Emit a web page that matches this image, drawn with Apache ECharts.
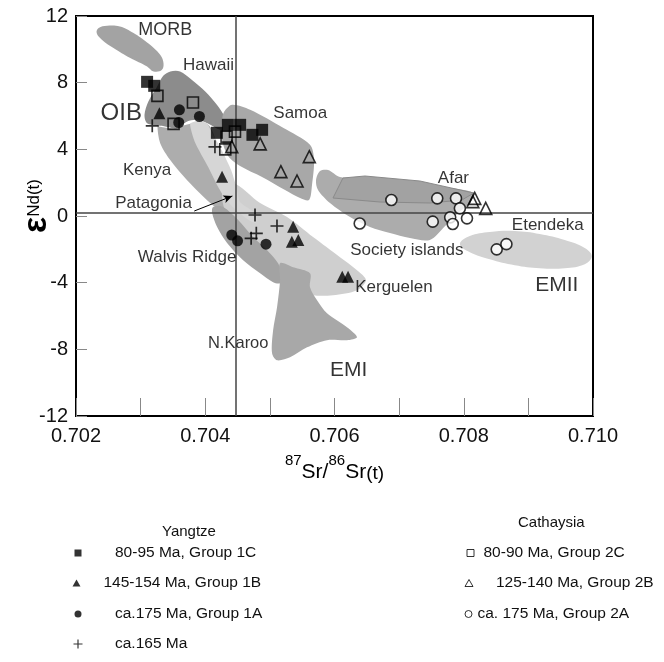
<!DOCTYPE html>
<html><head><meta charset="utf-8">
<script src="https://cdn.jsdelivr.net/npm/echarts@6/dist/echarts.min.js"></script>
<style>html,body{margin:0;padding:0;background:#fff}#c{width:664px;height:662px}</style>
</head><body><div id="c"></div>
<script>
// ---------- sample data (87Sr/86Sr(t), eNd(t)) ----------
var G1C_X = [0.70310, 0.70321, 0.70418, 0.70435, 0.70454, 0.70473, 0.70488];
var G1C_Y = [8.05, 7.81, 4.99, 5.47, 5.47, 4.87, 5.17];
var G1B_X = [0.70329, 0.70426, 0.70536, 0.70534, 0.70544, 0.70612, 0.70621];
var G1B_Y = [6.17, 2.36, -0.65, -1.55, -1.44, -3.65, -3.65];
var G1A_X = [0.70360, 0.70391, 0.70359, 0.70441, 0.70450, 0.70494];
var G1A_Y = [6.37, 5.97, 5.61, -1.14, -1.49, -1.69];
var G165_X = [0.70318, 0.70415, 0.70477, 0.70511, 0.70479, 0.70471];
var G165_Y = [5.41, 4.15, 0.06, -0.60, -1.04, -1.34];
var G2C_X = [0.70326, 0.70381, 0.70351, 0.70433, 0.70446, 0.70431];
var G2C_Y = [7.21, 6.81, 5.53, 4.76, 5.06, 4.00];
var G2B_X = [0.70441, 0.70485, 0.70561, 0.70517, 0.70542, 0.70817, 0.70814, 0.70834];
var G2B_Y = [4.16, 4.33, 3.56, 2.66, 2.10, 1.06, 0.86, 0.46];
var G2A_X = [0.70639, 0.70688, 0.70752, 0.70759, 0.70779, 0.70783, 0.70788, 0.70794, 0.70805, 0.70851, 0.70866];
var G2A_Y = [-0.45, 0.96, -0.34, 1.06, -0.08, -0.48, 1.06, 0.46, -0.14, -2.00, -1.69];

var SERIES_NAMES = ['80-95 Ma, Group 1C', '145-154 Ma, Group 1B', 'ca.175 Ma, Group 1A', 'ca.165 Ma',
                    '80-90 Ma, Group 2C', '125-140 Ma, Group 2B', 'ca. 175 Ma, Group 2A'];
var LEGEND_TITLES = ['Yangtze', 'Cathaysia'];

// ---------- axes ----------
var X_MIN = 0.702, X_MAX = 0.710, X_STEP = 0.001;
var Y_MIN = -12, Y_MAX = 12, Y_STEP = 4;
var REF_X = 0.70447;   // vertical reference line (bulk earth Sr)
var REF_Y = 0.2;       // horizontal reference line (CHUR)

// ---------- mantle reservoir fields (polygon vertices, data units) ----------
var MORB_FIELD = [[0.70235,11.28],[0.70248,11.42],[0.70268,11.37],[0.70289,10.98],[0.70310,10.41],[0.70328,9.78],[0.70335,9.27],[0.70333,8.77],[0.70320,8.67],[0.70310,8.97],[0.70284,9.48],[0.70258,10.08],[0.70240,10.58],[0.70232,10.98]];
var KENYA_FIELD = [[0.703261,5.41],[0.703303,4.37],[0.703458,3.36],[0.703716,2.16],[0.703972,1.16],[0.704179,0.46],[0.704334,0.16],[0.704354,0.66],[0.704334,1.56],[0.704277,2.58],[0.704199,3.96],[0.704122,4.99],[0.704025,5.53],[0.703767,5.53],[0.703509,5.27],[0.703303,5.35]];
var HAWAII_FIELD = [[0.70346,8.67],[0.70361,8.67],[0.70379,8.17],[0.70400,7.47],[0.70418,6.67],[0.70431,5.87],[0.70433,5.27],[0.70423,5.17],[0.70405,5.53],[0.70387,5.77],[0.70372,5.67],[0.70356,5.27],[0.70333,5.41],[0.70310,5.57],[0.70306,6.07],[0.70312,6.87],[0.70325,7.73],[0.70335,8.41]];
var KERGUELEN_FIELD = [[0.704431,1.98],[0.704849,0.78],[0.705266,-0.06],[0.705668,-1.26],[0.706085,-2.47],[0.706348,-3.25],[0.706487,-3.85],[0.706348,-4.45],[0.705977,-4.75],[0.705668,-4.75],[0.705359,-4.27],[0.705158,-3.67],[0.704957,-2.47],[0.704740,-1.87],[0.704493,-1.02],[0.704338,-0.06],[0.704261,1.38]];
var PATAGONIA_FIELD = [[0.703767,5.53],[0.703844,4.39],[0.704045,2.94],[0.704200,1.74],[0.704323,0.96],[0.704510,0.24],[0.704695,-0.30],[0.704787,-0.42],[0.704787,0.12],[0.704539,0.84],[0.704477,1.80],[0.704400,2.76],[0.704277,3.78],[0.704122,4.87],[0.704030,5.53],[0.703906,5.71]];
var WALVIS_FIELD = [[0.704122,0.54],[0.704277,0.54],[0.704509,-0.24],[0.704740,-1.26],[0.704957,-2.05],[0.705127,-2.83],[0.705204,-3.67],[0.705158,-4.03],[0.705050,-3.97],[0.704849,-3.43],[0.704586,-2.65],[0.704338,-1.62],[0.704184,-0.66],[0.704107,0.18]];
var NKAROO_FIELD = [[0.705158,-2.83],[0.705359,-3.07],[0.705621,-3.43],[0.705621,-4.27],[0.705730,-5.05],[0.705884,-5.83],[0.706193,-6.67],[0.706348,-7.27],[0.706193,-7.45],[0.705884,-7.45],[0.705575,-7.88],[0.705312,-8.48],[0.705111,-8.66],[0.705034,-8.24],[0.705050,-6.85],[0.705111,-5.47],[0.705158,-3.85]];
var SAMOA_FIELD = [[0.704292,6.25],[0.704416,6.67],[0.704694,6.37],[0.705204,5.29],[0.705621,4.27],[0.705683,3.36],[0.705652,1.86],[0.705606,0.96],[0.705467,1.08],[0.705235,1.56],[0.704879,2.34],[0.704539,3.00],[0.704354,3.60],[0.704261,4.57],[0.704261,5.77]];
var SOCIETY_FIELD = [[0.705714,2.16],[0.705776,2.70],[0.705900,2.76],[0.706085,2.34],[0.706394,2.28],[0.707012,2.10],[0.707677,1.74],[0.708156,1.38],[0.708094,0.78],[0.707909,0.16],[0.707708,-0.62],[0.707476,-1.44],[0.707167,-1.32],[0.706858,-1.02],[0.706549,-0.66],[0.706240,-0.06],[0.705930,0.78],[0.705745,1.56]];
var AFAR_FIELD = [[0.705977,1.08],[0.706131,2.28],[0.706471,2.40],[0.707322,2.10],[0.708156,1.38],[0.707971,0.96],[0.707476,0.78],[0.706703,0.84]];
var ETENDEKA_FIELD = [[0.707940,-1.68],[0.708094,-1.20],[0.708403,-0.96],[0.708790,-0.90],[0.709176,-1.08],[0.709563,-1.44],[0.709872,-1.92],[0.709980,-2.41],[0.709872,-2.89],[0.709563,-3.13],[0.709176,-3.13],[0.708790,-2.95],[0.708403,-2.59],[0.708094,-2.17]];

// ---------- field labels ----------
var LABEL_TEXT = ['MORB','Hawaii','OIB','Samoa','Kenya','Patagonia','Walvis Ridge','N.Karoo','EMI','Society islands','Kerguelen','Afar','Etendeka','EMII'];
var LABEL_X = [0.70338, 0.70405, 0.70270, 0.70547, 0.70310, 0.70320, 0.70372, 0.70451, 0.70622, 0.70712, 0.70692, 0.70784, 0.70930, 0.70944];
var LABEL_Y = [11.18, 9.03, 6.17, 6.17, 2.76, 0.76, -2.45, -7.65, -9.26, -2.04, -4.27, 2.26, -0.54, -4.15];
var ARROW_FROM = [0.70383, 0.30];
var ARROW_TO = [0.70442, 1.20];

// ---------- styling (kept out of data) ----------
var FONT = '"Liberation Sans", Arial, Helvetica, sans-serif';
var FIELDS = [
  {pts: MORB_FIELD, color: '#a3a3a3', smooth: 0.4},
  {pts: KENYA_FIELD, color: '#adadad', smooth: 0.3},
  {pts: HAWAII_FIELD, color: '#8c8c8c', smooth: 0.3},
  {pts: SAMOA_FIELD, color: '#a8a8a8', smooth: 0.3},
  {pts: KERGUELEN_FIELD, color: '#cfcfcf', smooth: 0.3},
  {pts: PATAGONIA_FIELD, color: '#d6d6d6', smooth: 0.2},
  {pts: WALVIS_FIELD, color: '#a3a3a3', smooth: 0.3},
  {pts: NKAROO_FIELD, color: '#a8a8a8', smooth: 0.3},
  {pts: SOCIETY_FIELD, color: '#acacac', smooth: 0.3},
  {pts: AFAR_FIELD, color: '#a2a2a2', smooth: 0, stroke: '#8a8a8a'},
  {pts: ETENDEKA_FIELD, color: '#d2d2d2', smooth: 0.4}
];
var LABEL_SIZE = {'OIB': 24, 'EMI': 21, 'EMII': 21, 'MORB': 18, 'N.Karoo': 16.5};

function zip(xs, ys) { return xs.map(function (x, i) { return [x, ys[i]]; }); }
var PLUS = 'path://M4.35,0H5.65V4.35H10V5.65H5.65V10H4.35V5.65H0V4.35H4.35Z';
var HOLLOW = {color: 'rgba(0,0,0,0)', borderColor: '#000', borderWidth: 1.6};

var pointSeries = [
  {name: SERIES_NAMES[0], data: zip(G1C_X, G1C_Y), symbol: 'rect', symbolSize: 12, itemStyle: {color: '#000'}},
  {name: SERIES_NAMES[1], data: zip(G1B_X, G1B_Y), symbol: 'triangle', symbolSize: 12, itemStyle: {color: '#000'}},
  {name: SERIES_NAMES[2], data: zip(G1A_X, G1A_Y), symbol: 'circle', symbolSize: 11, itemStyle: {color: '#000'}},
  {name: SERIES_NAMES[3], data: zip(G165_X, G165_Y), symbol: PLUS, symbolSize: 13, itemStyle: {color: '#000'}},
  {name: SERIES_NAMES[4], data: zip(G2C_X, G2C_Y), symbol: 'rect', symbolSize: 11, itemStyle: HOLLOW},
  {name: SERIES_NAMES[5], data: zip(G2B_X, G2B_Y), symbol: 'triangle', symbolSize: 12, itemStyle: HOLLOW},
  {name: SERIES_NAMES[6], data: zip(G2A_X, G2A_Y), symbol: 'circle', symbolSize: 11, itemStyle: {color: '#fff', borderColor: '#000', borderWidth: 1.6}}
].map(function (s) {
  return Object.assign({type: 'scatter', z: 5, silent: true}, s);
});

// legend layout
var LEG = [
  {i: 0, left: 74.5, top: 545, w: 7, h: 7, icon: 'rect', pad: 28.5, st: {color: '#000'}},
  {i: 1, left: 72.5, top: 575, w: 8, h: 7, icon: 'triangle', pad: 18, st: {color: '#000'}},
  {i: 2, left: 74.5, top: 606, w: 7, h: 7, icon: 'circle', pad: 28.5, st: {color: '#000'}},
  {i: 3, left: 73.5, top: 636, w: 9, h: 9, icon: PLUS, pad: 27.5, st: {color: '#000'}},
  {i: 4, left: 466.5, top: 545, w: 7, h: 7, icon: 'rect', pad: 4.5, st: {color: '#fff', borderColor: '#000', borderWidth: 1}},
  {i: 5, left: 464.5, top: 575, w: 8, h: 7, icon: 'triangle', pad: 18, st: {color: '#fff', borderColor: '#000', borderWidth: 1}},
  {i: 6, left: 464.5, top: 606, w: 7, h: 7, icon: 'circle', pad: 0.5, st: {color: '#fff', borderColor: '#000', borderWidth: 1}}
];
var legends = LEG.map(function (L) {
  return {
    show: true, selectedMode: false, orient: 'vertical', left: L.left, top: L.top, padding: 0,
    itemWidth: L.w, itemHeight: L.h,
    data: [{name: SERIES_NAMES[L.i], icon: L.icon, itemStyle: L.st}],
    textStyle: {fontFamily: FONT, fontSize: 15.5, color: '#111', padding: [0, 0, 0, L.pad]}
  };
});

var option = {
  animation: false,
  backgroundColor: '#fff',
  title: [
    {text: LEGEND_TITLES[0], left: 162, top: 524, textStyle: {fontFamily: FONT, fontSize: 15, fontWeight: 'normal', color: '#111'}, padding: 0},
    {text: LEGEND_TITLES[1], left: 518, top: 515, textStyle: {fontFamily: FONT, fontSize: 15, fontWeight: 'normal', color: '#111'}, padding: 0}
  ],
  legend: legends,
  grid: {left: 76, top: 16, width: 517, height: 400, show: true, borderColor: '#000', borderWidth: 2,
         backgroundColor: 'transparent', containLabel: false, outerBoundsMode: 'none'},
  xAxis: {
    type: 'value', min: X_MIN, max: X_MAX, interval: X_STEP,
    name: '{sup|87}{b|Sr/}{sup|86}{b|Sr}{s|(t)}', nameLocation: 'middle', nameGap: 37, nameMoveOverlap: false,
    nameTextStyle: {fontFamily: FONT, color: '#000', rich: {
      sup: {fontFamily: FONT, fontSize: 15, verticalAlign: 'top', lineHeight: 15, color: '#000'},
      b: {fontFamily: FONT, fontSize: 21, verticalAlign: 'bottom', lineHeight: 30, color: '#000'},
      s: {fontFamily: FONT, fontSize: 19, verticalAlign: 'bottom', lineHeight: 30, color: '#000'}
    }},
    axisLine: {show: true, onZero: false, lineStyle: {color: '#000', width: 2}},
    axisTick: {show: true, inside: true, length: 18, lineStyle: {color: '#888', width: 1}},
    splitLine: {show: false},
    axisLabel: {fontFamily: FONT, fontSize: 20, color: '#111', margin: 10,
      formatter: function (v) { var k = Math.round(v * 1000); return k % 2 === 0 ? (k / 1000).toFixed(3) : ''; }}
  },
  yAxis: {
    type: 'value', min: Y_MIN, max: Y_MAX, interval: Y_STEP,
    name: '{e|ε}{n|Nd(t)}', nameLocation: 'middle', nameRotate: 90, nameGap: 22, nameMoveOverlap: false,
    nameTextStyle: {fontFamily: FONT, color: '#000', padding: [0, 0, 0, 20], rich: {
      e: {fontFamily: FONT, fontSize: 34, fontWeight: 'bold', verticalAlign: 'bottom', lineHeight: 34, color: '#000'},
      n: {fontFamily: FONT, fontSize: 17, verticalAlign: 'middle', lineHeight: 34, color: '#000', padding: [0, 0, 6, 0]}
    }},
    axisLine: {show: true, onZero: false, lineStyle: {color: '#000', width: 2}},
    axisTick: {show: true, inside: true, length: 11, lineStyle: {color: '#888', width: 1}},
    splitLine: {show: false},
    axisLabel: {fontFamily: FONT, fontSize: 20, color: '#111', margin: 8}
  },
  series: [
    {
      type: 'custom', z: 1, silent: true, clip: true,
      data: FIELDS.map(function (f) { return f.pts[0]; }),
      renderItem: function (params, api) {
        var f = FIELDS[params.dataIndex];
        var pts = f.pts.map(function (p) { return api.coord(p); });
        return {type: 'polygon', shape: {points: pts, smooth: f.smooth},
          style: {fill: f.color, stroke: f.stroke || null, lineWidth: f.stroke ? 1 : 0}};
      }
    },
    {
      type: 'scatter', z: 3, silent: true, symbolSize: 0, data: [],
      markLine: {
        silent: true, animation: false, symbol: 'none', label: {show: false},
        lineStyle: {color: '#444', width: 1.5, type: 'solid'},
        data: [
          [{coord: [REF_X, Y_MIN]}, {coord: [REF_X, Y_MAX]}],
          [{coord: [X_MIN, REF_Y]}, {coord: [X_MAX, REF_Y]}]
        ]
      }
    },
    {
      type: 'scatter', z: 4, silent: true, symbolSize: 0, data: [],
      markLine: {
        silent: true, animation: false, symbol: ['none', 'arrow'], symbolSize: [6, 9], label: {show: false},
        lineStyle: {color: '#000', width: 1, type: 'solid'},
        data: [[{coord: ARROW_FROM}, {coord: ARROW_TO}]]
      }
    },
    {
      type: 'scatter', z: 6, silent: true, symbolSize: 0,
      data: LABEL_TEXT.map(function (t, i) {
        return {name: t, value: [LABEL_X[i], LABEL_Y[i]],
          label: {show: true, position: 'inside', formatter: t, fontFamily: FONT, fontSize: LABEL_SIZE[t] || 17, color: '#000'}};
      })
    }
  ].concat(pointSeries)
};

var chart = echarts.init(document.getElementById('c'), null, {renderer: 'canvas'});
chart.setOption(option);
</script></body></html>
